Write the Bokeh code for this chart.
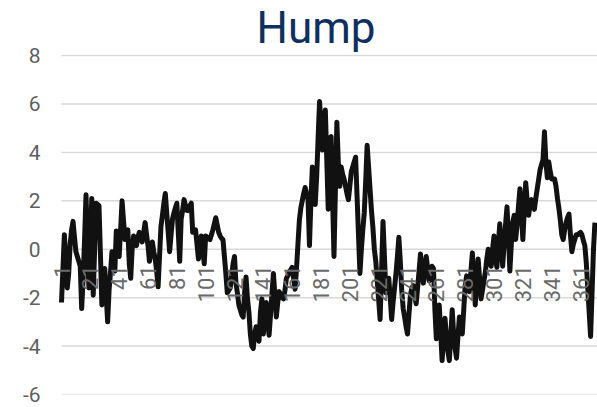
import math
from bokeh.plotting import figure
from bokeh.models import Range1d, FixedTicker, Label, ColumnDataSource
from bokeh.core.properties import value
from bokeh.embed import file_html
from bokeh.resources import INLINE

title_text = "Hump"

values = [
    -2.2, -0.8, 0.6, -0.5, -1.6, -1.0, 0.2, 0.8, 1.15, 0.5,
    -0.1, -0.3, -0.5, -0.7, -2.45, -1.2, 0.4, 2.25, 0.3, -1.6,
    0.2, 2.1, -1.9, 0.0, 1.9, 1.85, 1.8, -0.2, -2.3, -1.5,
    -0.8, -1.9, -3.0, -1.7, -0.95, -0.1, -0.5, -0.9, 0.75, 0.2,
    -0.3, 0.8, 2.0, 1.2, 0.4, 0.6, 0.8, -0.6, -1.2, 0.0,
    0.55, 0.35, 0.15, 0.5, 0.7, 0.5, 0.3, 0.7, 1.1, 0.6,
    0.15, -0.5, -0.1, 0.3, -0.1, -0.4, -0.9, -1.55, -0.3, 0.95,
    1.4, 1.9, 2.3, 1.5, 0.7, -0.1, 0.6, 1.25, 1.5, 1.7,
    1.9, 0.7, -0.5, 1.25, 1.6, 2.05, 1.8, 1.6, 1.6, 1.8,
    1.9, 0.7, 0.75, 0.8, 0.2, -0.4, 0.1, 0.55, 0.0, -0.6,
    0.55, 0.5, 0.45, 0.4, 0.6, 0.8, 1.05, 1.3, 1.0, 0.7,
    0.55, 0.45, 0.4, -0.3, -1.0, -1.8, -1.7, -1.6, -1.1, -0.6,
    -0.3, -1.4, -1.8, -2.3, -2.5, -2.7, -2.8, -1.8, -1.15, -2.05,
    -2.6, -3.5, -4.0, -4.1, -3.5, -3.2, -3.5, -3.8, -2.6, -2.05,
    -3.5, -2.9, -2.2, -2.9, -3.55, -2.7, -1.8, -1.0, -1.9, -2.8,
    -2.2, -1.75, -1.9, -2.0, -2.05, -1.7, -1.2, -1.1, -0.95, -0.85,
    -0.75, -1.2, -1.65, -0.8, 0.2, 1.2, 1.7, 2.0, 2.3, 2.55,
    2.3, 2.05, 0.15, 2.0, 3.4, 2.4, 1.85, 3.0, 4.6, 6.1,
    5.1, 4.1, 5.2, 5.75, 3.7, 1.65, 4.6, 4.65, 2.2, -0.3,
    2.5, 5.25, 3.6, 2.6, 3.4, 3.1, 2.9, 2.6, 2.3, 2.05,
    2.6, 3.2, 3.4, 3.6, 3.8, 2.2, 0.6, -1.0, 0.0, 0.8,
    1.5, 2.8, 4.3, 3.4, 2.5, 1.6, 0.9, 0.0, -0.5, -1.3,
    -2.1, -2.9, -0.9, 1.15, -0.3, -1.8, -1.5, -1.2, -2.0, -2.9,
    -2.2, -1.6, -1.0, -0.3, 0.5, -0.5, -1.7, -2.45, -2.8, -3.2,
    -3.5, -2.7, -1.9, -1.6, -1.5, -1.9, -2.25, -1.6, -0.9, -0.2,
    -0.8, -1.4, -0.8, -0.3, -0.8, -1.3, -1.0, -0.7, -0.8, -2.5,
    -3.7, -2.8, -2.3, -3.4, -4.6, -3.7, -2.85, -3.6, -4.2, -4.6,
    -3.6, -2.5, -3.5, -4.1, -4.5, -3.6, -2.8, -3.1, -3.5, -2.5,
    -1.5, -1.1, -1.5, -1.75, -0.9, -0.15, -1.2, -2.3, -1.2, -0.4,
    -1.2, -2.05, -1.7, -1.3, -0.95, -0.4, 0.0, -0.4, -0.7, 0.0,
    0.55, -0.4, -0.75, 0.2, 1.05, 0.2, -0.7, 0.2, 1.0, 1.75,
    0.6, -0.9, 0.2, 1.1, 1.4, 0.4, 1.0, 1.8, 2.5, 1.5,
    0.4, 1.6, 2.75, 2.0, 1.4, 1.8, 2.05, 1.8, 1.65, 2.1,
    2.5, 2.9, 3.3, 3.5, 3.7, 4.85, 3.6, 2.95, 3.6, 3.2,
    2.9, 2.9, 2.9, 2.6, 2.1, 1.7, 1.2, 0.6, 0.4, 0.8,
    1.1, 1.3, 1.45, 0.6, -0.1, 0.2, 0.4, 0.6, 0.6, 0.65,
    0.7, 0.6, 0.35, 0.15, -0.55, -1.6, -2.6, -3.6, -1.8, 0.0,
    1.1,
]
days = list(range(1, len(values) + 1))

x_tick_days = list(range(1, 362, 20))
x_tick_labels = [str(d) for d in x_tick_days]
y_ticks = [-6, -4, -2, 0, 2, 4, 6, 8]
y_tick_labels = ["-6", "-4", "-2", "0", "2", "4", "6", "8"]

# layout constants (pixels)
W, H = 597, 407
FRAME_LEFT = 44          # frame starts a bit left of the plot area so the "1" label is not clipped
PLOT_LEFT = 61           # where day 1 / gridlines start
BOTTOM = 13              # -6 gridline sits 13 px above the bottom edge
PX_PER_DAY = 1.4417
PX_PER_UNIT = 24.21

x_start = 1 - (PLOT_LEFT - FRAME_LEFT) / PX_PER_DAY
x_end = 1 + (W - PLOT_LEFT) / PX_PER_DAY
y_start = -6
y_end = -6 + (H - BOTTOM) / PX_PER_UNIT

p = figure(
    width=W, height=H,
    output_backend="svg", toolbar_location=None,
    x_range=Range1d(x_start, x_end), y_range=Range1d(y_start, y_end),
    x_axis_location=None, title=None,
    min_border_left=FRAME_LEFT, min_border_right=0, min_border_top=0, min_border_bottom=BOTTOM,
)
p.outline_line_color = None
p.background_fill_color = "white"
p.border_fill_color = "white"
p.xgrid.visible = False
p.ygrid.visible = False

p.yaxis.ticker = FixedTicker(ticks=y_ticks)
p.yaxis.major_label_overrides = {t: l for t, l in zip(y_ticks, y_tick_labels)}
p.yaxis.axis_line_color = None
p.yaxis.major_tick_line_color = None
p.yaxis.minor_tick_line_color = None
p.yaxis.major_tick_in = 0
p.yaxis.major_tick_out = 0
p.yaxis.major_label_standoff = 4
p.yaxis.major_label_text_font = "Roboto"
p.yaxis.major_label_text_font_size = "21px"
p.yaxis.major_label_text_color = "#5f5f5f"

# horizontal gridlines from day 1 to the right edge
p.segment(x0=[days[0]] * len(y_ticks), x1=[x_end] * len(y_ticks), y0=y_ticks, y1=y_ticks,
          line_color="#d9d9d9", line_width=1.5)

p.line(days, values, line_color="#111111", line_width=5, line_join="round")

src = ColumnDataSource(dict(x=x_tick_days, y=[0] * len(x_tick_days), t=x_tick_labels))
p.text(x="x", y="y", text="t", source=src, angle=math.pi / 2,
       text_align="right", text_baseline="middle", y_offset=16,
       text_font=value("Roboto"), text_font_size="22px", text_color="#6a6a6a")

title = Label(x=315.5 - FRAME_LEFT, y=H - BOTTOM - 27, x_units="screen", y_units="screen",
              text=title_text, text_align="center", text_baseline="alphabetic",
              text_font="Roboto", text_font_size="44px", text_color="#0f2f5e")
p.add_layout(title)

open("out.html", "w").write(file_html(p, INLINE))
